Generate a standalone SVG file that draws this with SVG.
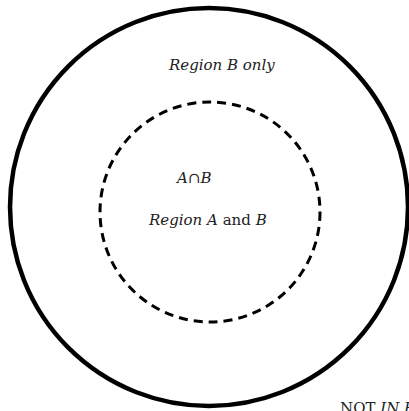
<svg xmlns="http://www.w3.org/2000/svg" width="409" height="411" viewBox="0 0 409 411">
<style>
.t{font-family:"DejaVu Serif","Liberation Serif",serif;font-size:15px;fill:#222}
.i{font-style:italic}
</style>
<rect width="409" height="411" fill="#fff"/>
<g id="outer"><circle cx="209" cy="207" r="199" fill="none" stroke="#000" stroke-width="4.5"/></g>
<g id="inner"><circle cx="210" cy="212" r="110" fill="none" stroke="#000" stroke-width="3" stroke-dasharray="9,6"/></g>
<g id="labels">
<text class="t i" x="169" y="70">Region B only</text>
<text class="t i" x="177" y="183">A∩B</text>
<text class="t" x="149" y="225"><tspan class="i">Region A</tspan> and <tspan class="i">B</tspan></text>
<text class="t" x="340" y="413">NOT <tspan class="i">IN B</tspan></text>
</g>
</svg>
